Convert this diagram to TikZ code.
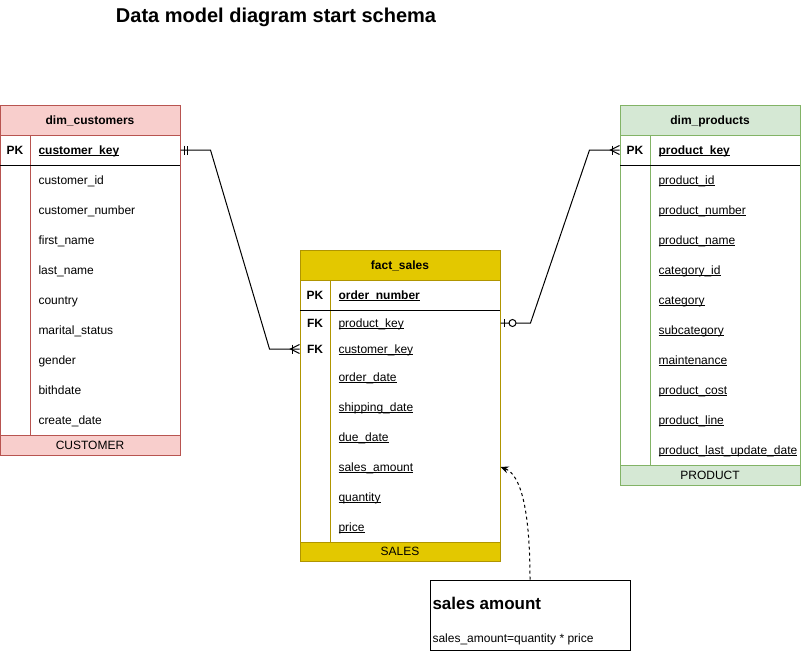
\documentclass[tikz,border=0pt]{standalone}
\usepackage{fontspec}
\setmainfont{Liberation Sans}
\usepackage{tikz}
\usetikzlibrary{arrows.meta}
\usetikzlibrary{positioning,calc}
\definecolor{custfill}{HTML}{F8CECC}
\definecolor{custline}{HTML}{B85450}
\definecolor{salesfill}{HTML}{E3C800}
\definecolor{salesline}{HTML}{B09500}
\definecolor{prodfill}{HTML}{D5E8D4}
\definecolor{prodline}{HTML}{82B366}
\newcommand{\ulfield}[1]{\setbox0\hbox{#1}\rlap{\rule[-1.6pt]{\wd0}{0.8pt}}\box0}
\tikzset{
  every node/.style={font=\fontsize{12}{14}\selectfont},
  tablehead/.style={
    draw,
    minimum height=30pt,
    inner sep=0pt,
    text height=8.6pt,
    text depth=0pt,
    font=\fontsize{12}{14}\selectfont\bfseries
  },
  tablefoot/.style={
    draw,
    minimum height=20pt,
    inner sep=0pt,
    text height=8.6pt,
    text depth=0pt
  },
  keytag/.style={
    inner sep=0pt,
    text height=8.6pt,
    text depth=0pt,
    font=\fontsize{12}{14}\selectfont\bfseries
  },
  field/.style={
    anchor=west,
    inner sep=0pt,
    text height=8.6pt,
    text depth=0pt
  },
  relation/.style={
    draw=black,
    line width=1pt
  },
  notelink/.style={
    draw=black,
    line width=1pt,
    dash pattern=on 3pt off 3pt,
    -{Stealth[length=8pt, width=7pt]}
  }
}

\begin{document}
\begin{tikzpicture}[x=1pt, y=-1pt, line width=1pt]
  \useasboundingbox (0,0) rectangle (801,653);

  % Title
  \node[inner sep=0pt, text height=14.3pt, text depth=0pt,
        font=\fontsize{20}{24}\selectfont\bfseries] (title) at (276,15)
        {Data model diagram start schema};

  % dim_customers
  \draw[custline, fill=white] (0,135) rectangle (180,435);
  \draw[custline] (30,135) -- (30,435);
  \draw (0,165) -- (180,165);
  \node[tablehead, draw=custline, fill=custfill, minimum width=180pt] (cust) at (90,120) {dim\_customers};
  \node[tablefoot, draw=custline, fill=custfill, minimum width=180pt] (custfoot) at (90,445) {CUSTOMER};
  \node[keytag] (custpk) at (15,150) {PK};
  \node[field, font=\fontsize{12}{14}\selectfont\bfseries] (ckey) at (38,150) {\ulfield{customer\_key}};
  \foreach \f [count=\i] in {customer\_id, customer\_number, first\_name, last\_name,
      country, marital\_status, gender, bithdate, create\_date} {
    \node[field] (cust\i) at (38,{150+30*\i}) {\f};
  }

  % fact_sales
  \draw[salesline, fill=white] (300,280) rectangle (500,542);
  \draw[salesline] (330,280) -- (330,542);
  \draw (300,310) -- (500,310);
  \node[tablehead, draw=salesline, fill=salesfill, minimum width=200pt] (sales) at (400,265) {fact\_sales};
  \node[tablefoot, draw=salesline, fill=salesfill, minimum width=200pt, minimum height=19pt] (salesfoot) at (400,551.5) {SALES};
  \node[keytag] (salespk) at (315,295) {PK};
  \node[field, font=\fontsize{12}{14}\selectfont\bfseries] (okey) at (338,295) {\ulfield{order\_number}};
  \node[keytag] (salesfk1) at (315,323) {FK};
  \node[field] (skey) at (338,323) {\ulfield{product\_key}};
  \node[keytag] (salesfk2) at (315,349) {FK};
  \node[field] (sckey) at (338,349) {\ulfield{customer\_key}};
  \node[field] (sdate) at (338,377) {\ulfield{order\_date}};
  \node[field] (sship) at (338,407) {\ulfield{shipping\_date}};
  \node[field] (sdue) at (338,437) {\ulfield{due\_date}};
  \node[field] (samt) at (338,467) {\ulfield{sales\_amount}};
  \node[field] (sqty) at (338,497) {\ulfield{quantity}};
  \node[field] (sprice) at (338,527) {\ulfield{price}};

  % dim_products
  \draw[prodline, fill=white] (620,135) rectangle (800,465);
  \draw[prodline] (650,135) -- (650,465);
  \draw (620,165) -- (800,165);
  \node[tablehead, draw=prodline, fill=prodfill, minimum width=180pt] (prod) at (710,120) {dim\_products};
  \node[tablefoot, draw=prodline, fill=prodfill, minimum width=180pt] (prodfoot) at (710,475) {PRODUCT};
  \node[keytag] (prodpk) at (635,150) {PK};
  \node[field, font=\fontsize{12}{14}\selectfont\bfseries] (pkey) at (658,150) {\ulfield{product\_key}};
  \foreach \f [count=\i] in {product\_id, product\_number, product\_name, category\_id,
      category, subcategory, maintenance, product\_cost, product\_line,
      product\_last\_update\_date} {
    \node[field] (prod\i) at (658,{150+30*\i}) {\ulfield{\f}};
  }

  % customer -> sales (one to many)
  \draw[relation] (cust.east |- ckey) -- ++(30,0)
    -- ($(sales.west |- sckey)+(-30,0)$) -- (sales.west |- sckey);
  \draw[relation] (cust.east |- ckey) ++(4,-4.5) -- ++(0,9) ++(3,0) -- ++(0,-9);
  \draw[relation] (sales.west |- sckey) ++(-7,-4.5) -- ++(0,9);
  \draw[relation] (sales.west |- sckey) ++(0,-4.5) -- ++(-9,4.5) -- ++(9,4.5);

  % sales -> products (zero or one to many)
  \draw[relation] (sales.east |- skey) -- ++(30,0)
    -- ($(prod.west |- pkey)+(-30,0)$) -- (prod.west |- pkey);
  \draw[relation] (sales.east |- skey) ++(4,-4) -- ++(0,8);
  \draw[relation, fill=white] (sales.east |- skey) ++(12,0) circle (3.5pt);
  \draw[relation] (prod.west |- pkey) ++(-7,-4.5) -- ++(0,9);
  \draw[relation] (prod.west |- pkey) ++(0,-4.5) -- ++(-9,4.5) -- ++(9,4.5);

  % note on sales_amount
  \node[draw, minimum width=200pt, minimum height=70pt, inner sep=0pt] (note) at (530,615) {};
  \node[field, text height=12.2pt, font=\fontsize{17}{20}\selectfont\bfseries] (notetitle) at (432,603) {sales amount};
  \node[field] (notebody) at (432,638) {sales\_amount=quantity * price};
  \draw[notelink] (note.north) .. controls (530,515) and (522,475) .. (sales.east |- samt);
\end{tikzpicture}
\end{document}
